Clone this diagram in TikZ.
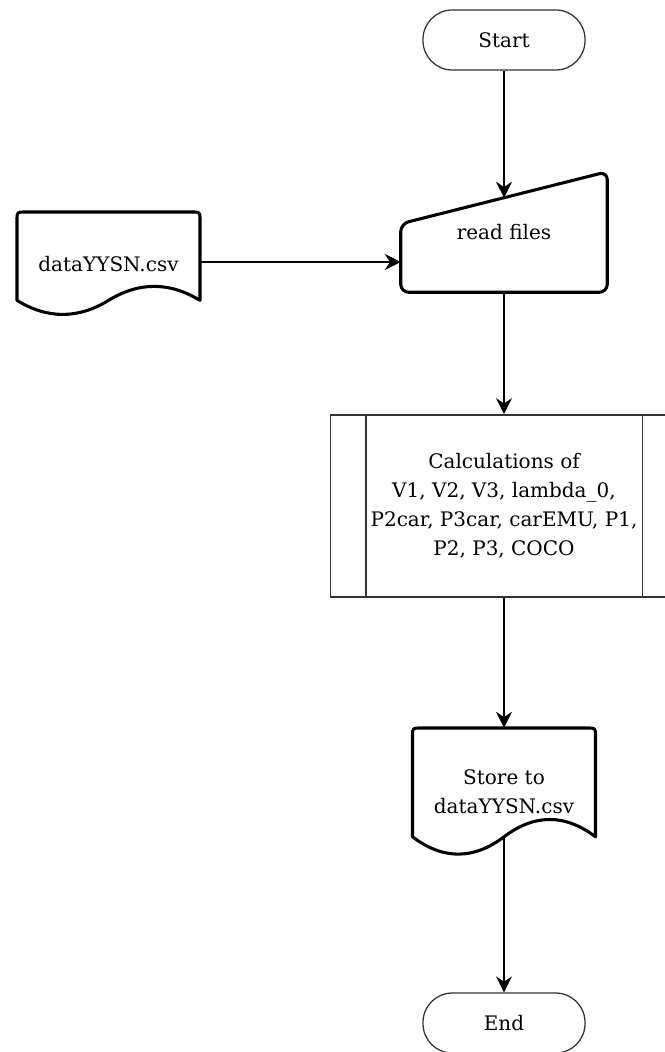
\documentclass[tikz,border=0pt]{standalone}
\usepackage{fontspec}
\setmainfont{DejaVu Serif}
\usetikzlibrary{arrows.meta,calc}

\begin{document}
\begin{tikzpicture}[x=0.75pt,y=-0.75pt,
  font=\fontsize{15}{21.75}\selectfont,
  terminal/.style={draw=black!80,line width=0.95pt,rounded corners=22pt,
    minimum width=121.5pt,minimum height=45pt,align=center,inner sep=0pt},
  holder/.style={inner sep=0pt,align=center},
  outline/.style={line width=2.3pt,line join=round},
  procbox/.style={draw=black!80,line width=1.3pt,inner sep=0pt,align=center,
    minimum width=260.25pt,minimum height=136.5pt},
  flow/.style={line width=1.15pt,-{Stealth[length=12pt,width=12pt,inset=4pt]}}]
\useasboundingbox (0,0) rectangle (664,1052);

% terminals
\node[terminal] (start) at (504,40) {Start};
\node[terminal] (end) at (504,1023) {End};

% manual input: read files
\node[holder,minimum width=154.5pt,minimum height=90pt] (read) at (504,232) {read files};
\draw[outline,rounded corners=6pt] (read.south) -- (read.south west) -- ([yshift=-39pt]read.north west)
  -- (read.north east) -- (read.south east) -- cycle;
\path ([yshift=-39pt]read.north west) -- (read.north east) coordinate[pos=0.5] (readin);

% input document (rounded top corners, wavy bottom)
\node[holder,minimum width=137.25pt,minimum height=78pt] (data) at (108.5,264) {dataYYSN.csv};
\draw[outline] (108.5,212) -- (192,212) .. controls (200,212) .. (200,220) -- (200,300.4)
  .. controls (169.5,281.7) and (139,281.7) .. (108.5,300.4)
  .. controls (78,319.1) and (47.5,319.1) .. (17,300.4)
  -- (17,220) .. controls (17,212) .. (25,212) -- cycle;

% predefined process
\node[procbox] (calc) at (504,506)
  {Calculations of\\V1, V2, V3, lambda\_0,\\P2car, P3car, carEMU, P1,\\P2, P3, COCO};
\draw[draw=black!80,line width=1.3pt] ([xshift=27pt]calc.north west) -- ([xshift=27pt]calc.south west);
\draw[draw=black!80,line width=1.3pt] ([xshift=-27pt]calc.north east) -- ([xshift=-27pt]calc.south east);

% output document
\node[holder,minimum width=137.25pt,minimum height=96pt] (store) at (504,792) {Store to\\dataYYSN.csv};
\draw[outline] (504,728) -- (587.5,728) .. controls (595.5,728) .. (595.5,736) -- (595.5,836.8)
  .. controls (565,813.7) and (534.5,813.7) .. (504,836.8) coordinate (storeout)
  .. controls (473.5,859.9) and (443,859.9) .. (412.5,836.8)
  -- (412.5,736) .. controls (412.5,728) .. (420.5,728) -- cycle;

% connectors
\draw[flow] (start.south) -- (readin);
\draw[flow] ([yshift=1.5pt]data.east) -- ([yshift=1.5pt]data.east -| read.west);
\draw[flow] (read.south) -- (calc.north);
\draw[flow] (calc.south) -- (store.north);
\draw[flow] (storeout) -- (end.north);
\end{tikzpicture}
\end{document}
